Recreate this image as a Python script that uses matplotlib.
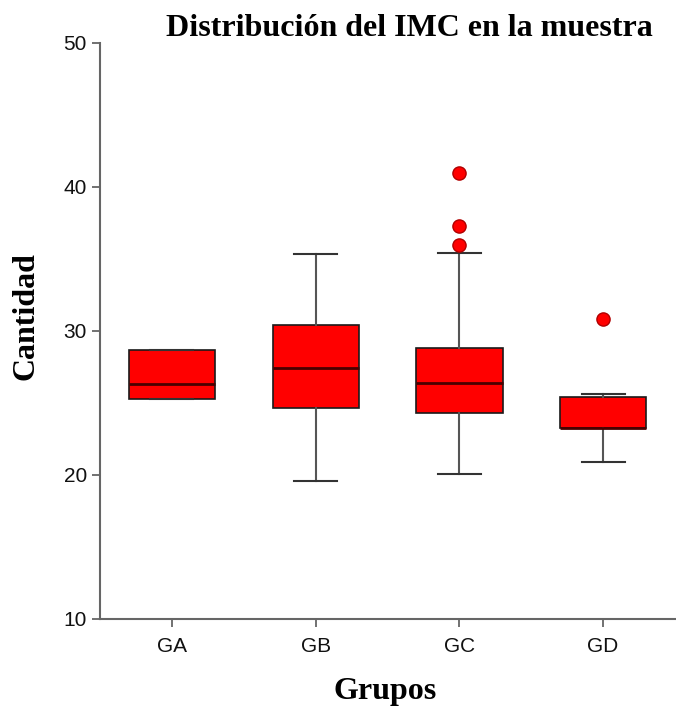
import matplotlib
matplotlib.use("Agg")
import matplotlib.pyplot as plt

# valores (IMC por grupo)
grupos = ["GA", "GB", "GC", "GD"]
q1 = [25.26, 24.63, 24.28, 23.24]
mediana = [26.30, 27.43, 26.39, 23.26]
q3 = [28.68, 30.42, 28.82, 25.42]
bigote_inf = [25.26, 19.58, 20.05, 20.90]
bigote_sup = [28.68, 35.35, 35.44, 25.65]
atipicos = [[], [], [35.97, 37.31, 41.0], [30.81]]

SERIF = ["Liberation Serif", "DejaVu Serif"]
SANS = ["Liberation Sans", "DejaVu Sans"]

stats = []
for i, g in enumerate(grupos):
    stats.append({
        "label": g,
        "q1": q1[i], "med": mediana[i], "q3": q3[i],
        "whislo": bigote_inf[i], "whishi": bigote_sup[i],
        "fliers": atipicos[i],
    })

fig = plt.figure(figsize=(6.76, 7.14), dpi=100)
ax = fig.add_axes([100 / 676, 95 / 714, 575 / 676, 576 / 714])

ax.bxp(
    stats,
    positions=range(1, len(grupos) + 1),
    widths=0.6,
    patch_artist=True,
    boxprops=dict(facecolor="#ff0000", edgecolor="#1a1a1a", linewidth=1.2),
    medianprops=dict(color="#4a0000", linewidth=2.0),
    whiskerprops=dict(color="#555555", linewidth=1.5),
    capprops=dict(color="#333333", linewidth=1.5),
    capwidths=0.3,
    flierprops=dict(marker="o", markerfacecolor="#ff0000",
                    markeredgecolor="#b00000", markersize=9.5),
)

ax.set_xlim(0.5, 4.5)
ax.set_ylim(10, 50)
ax.set_yticks([10, 20, 30, 40, 50])
ax.set_xticks(range(1, len(grupos) + 1))
ax.set_xticklabels(grupos)

for s in ["top", "right"]:
    ax.spines[s].set_visible(False)
for s in ["left", "bottom"]:
    ax.spines[s].set_color("#666666")
    ax.spines[s].set_linewidth(1.5)

ax.tick_params(axis="both", direction="out", length=6, width=1.3,
               color="#666666", labelsize=15, labelcolor="#111111")
ax.tick_params(axis="x", pad=7)
for lab in ax.get_xticklabels() + ax.get_yticklabels():
    lab.set_family(SANS)

# etiquetas de ejes y título colocadas a mano sobre la figura
fig.text(385 / 676, 1 - 692 / 714, "Grupos", family=SERIF, fontsize=23,
         fontweight="bold", ha="center", va="center")
fig.text(26 / 676, 1 - 316 / 714, "Cantidad", family=SERIF, fontsize=23,
         fontweight="bold", ha="center", va="center", rotation=90)
fig.text(409 / 676, 1 - 28 / 714, "Distribución del IMC en la muestra",
         family=SERIF, fontsize=23, fontweight="bold", ha="center", va="center")

fig.savefig("out.png", dpi=100)
